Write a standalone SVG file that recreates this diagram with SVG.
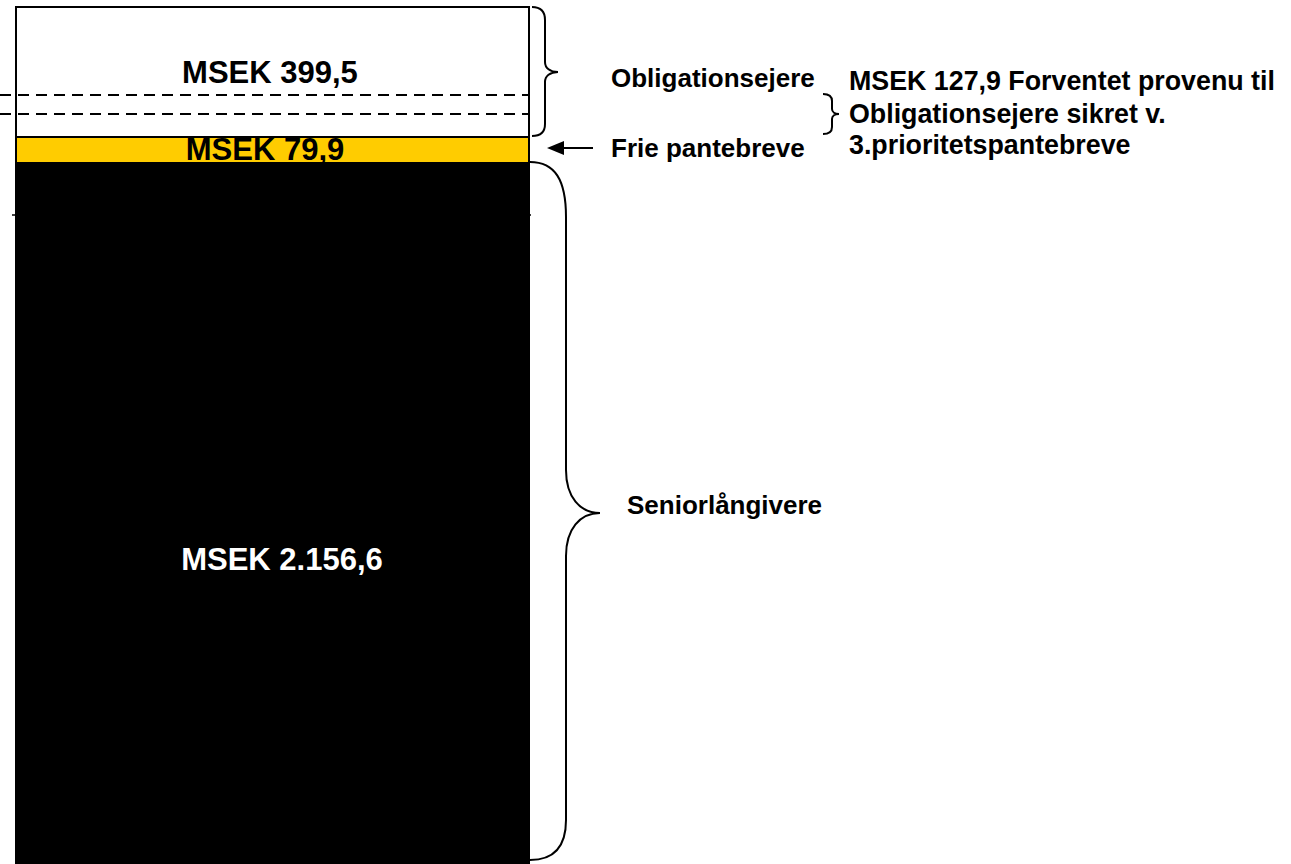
<svg xmlns="http://www.w3.org/2000/svg" width="1291" height="864" viewBox="0 0 1291 864">
<style>
text{font-family:"Liberation Sans",Arial,sans-serif;font-weight:bold;}
.box{font-size:31px;text-anchor:middle;}
.lbl{font-size:26px;fill:#000;}
.lbl2{font-size:26.8px;fill:#000;}
.brace{fill:none;stroke:#000;stroke-width:2;}
.dash{stroke:#000;stroke-width:2;stroke-dasharray:11 7;}
</style>
<rect width="1291" height="864" fill="#fff"/>
<g id="grid">
<line x1="12" y1="215" x2="531" y2="215" stroke="#000" stroke-width="1.5"/>
</g>
<g id="node-obligationer">
<rect x="16" y="7" width="513" height="130" fill="#fff" stroke="#000" stroke-width="2"/>
<line class="dash" x1="0" y1="95" x2="530" y2="95"/>
<line class="dash" x1="0" y1="114" x2="530" y2="114"/>
<text class="box" x="270" y="83" fill="#000">MSEK 399,5</text>
</g>
<g id="node-frie">
<rect x="16" y="137" width="513" height="26" fill="#ffcc00" stroke="#000" stroke-width="2"/>
<text class="box" x="265" y="160" fill="#000">MSEK 79,9</text>
</g>
<g id="node-senior">
<rect x="15" y="163" width="515" height="701" fill="#000"/>
<text class="box" x="282" y="570" fill="#fff">MSEK 2.156,6</text>
</g>
<g id="connectors">
<path class="brace" d="M532,7 C541,7 545,11 545,20 L545,62 C545,68 550,72 558,72 C550,72 545,76 545,82 L545,124 C545,132 541,136 532,136"/>
<path class="brace" d="M823,94 C829,94 832,96 832,101 L832,109 C832,112 835,114 839,114 C835,114 832,116 832,119 L832,127 C832,132 829,134 823,134"/>
<path class="brace" d="M530,162 C555,162 566,180 566,217 L566,470 C566,497 580,513 600,513 C580,513 566,529 566,556 L566,820 C566,846 555,860 530,860"/>
<line x1="560" y1="148" x2="593" y2="148" stroke="#000" stroke-width="2"/>
<polygon points="547,148 564,141 564,155" fill="#000"/>
</g>
<g id="labels">
<text class="lbl" x="611" y="87">Obligationsejere</text>
<text class="lbl" x="611" y="157">Frie pantebreve</text>
<text class="lbl" x="627" y="514">Seniorlångivere</text>
<text class="lbl2" x="849" y="90">MSEK 127,9 Forventet provenu til</text>
<text class="lbl2" x="849" y="123">Obligationsejere sikret v.</text>
<text class="lbl2" x="849" y="154">3.prioritetspantebreve</text>
</g>
</svg>
